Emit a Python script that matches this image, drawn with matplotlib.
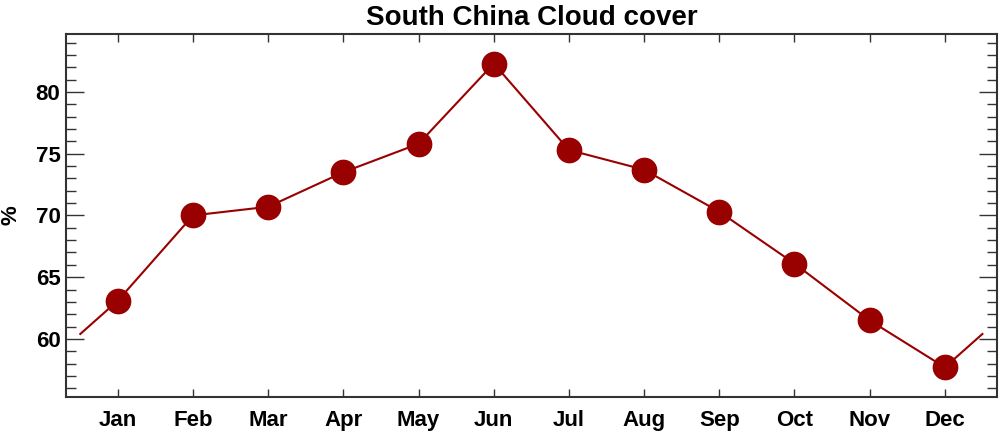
import matplotlib
matplotlib.use("Agg")
import matplotlib.pyplot as plt
from matplotlib.ticker import MultipleLocator
import numpy as np

plt.rcParams['font.family'] = ['Liberation Sans', 'DejaVu Sans']
plt.rcParams['font.weight'] = 'bold'

# monthly mean cloud cover (%)
months = ['Jan', 'Feb', 'Mar', 'Apr', 'May', 'Jun',
          'Jul', 'Aug', 'Sep', 'Oct', 'Nov', 'Dec']
cloud = [63.1, 70.0, 70.7, 73.5, 75.8, 82.3,
         75.3, 73.7, 70.3, 66.1, 61.5, 57.7]

title = 'South China Cloud cover'
ylabel = '%'

x = np.arange(1, len(months) + 1)
# wrap the line half a month beyond each end (cyclic annual cycle)
edge = (cloud[0] + cloud[-1]) / 2
x_line = np.concatenate([[0.5], x, [len(months) + 0.5]])
y_line = np.concatenate([[edge], cloud, [edge]])

red = '#990000'

fig = plt.figure(figsize=(10, 4.33), dpi=100)
ax = fig.add_axes([0.066, 0.0824, 0.9307, 0.8402])

ax.plot(x_line, y_line, color=red, linewidth=1.5, zorder=2)
ax.plot(x, cloud, 'o', color=red, markersize=17.5, zorder=3)

ax.set_xlim(0.31, 12.69)
ax.set_ylim(55.27, 84.73)
ax.set_xticks(x)
ax.set_xticklabels(months)
ax.yaxis.set_major_locator(MultipleLocator(5))
ax.yaxis.set_minor_locator(MultipleLocator(1))

for s in ax.spines.values():
    s.set_linewidth(1.5)
    s.set_color('#333333')

ax.tick_params(axis='x', which='major', direction='in', length=5.8, width=1,
               color='#333333', top=True, labelsize=16, pad=9)
ax.tick_params(axis='y', which='major', direction='in', length=13, width=1,
               color='#333333', right=True, labelsize=16, pad=4)
ax.tick_params(axis='y', which='minor', direction='in', length=7, width=1,
               color='#333333', right=True)

ax.set_title(title, fontsize=20, fontweight='bold', pad=6)
ax.set_ylabel(ylabel, fontsize=16, fontweight='bold', labelpad=10)

fig.savefig('out.png', dpi=100)
